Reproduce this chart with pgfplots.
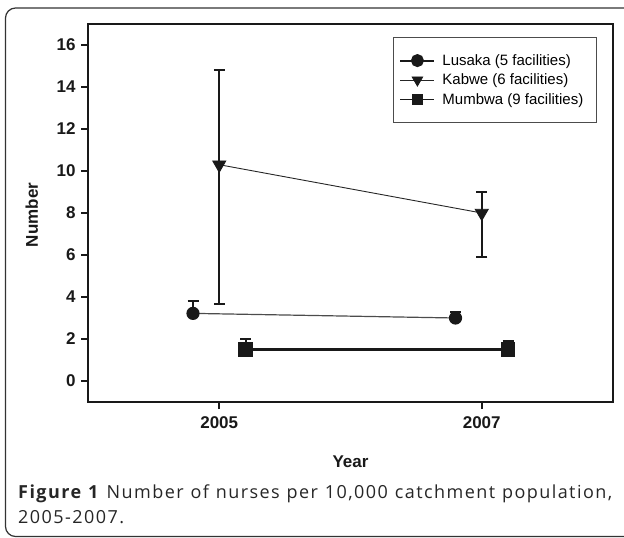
\documentclass[border=0pt]{standalone}
\usepackage{fontspec}
\setmainfont{Liberation Sans}
\newfontfamily\capfont[LetterSpace=8]{Open Sans}
\usepackage{pgfplots}
\pgfplotsset{compat=1.18}
\pgfplotstableread{
x y ep em
2004.8 3.22 0.58 0
2006.8 3.0 0.3 0
}\lusaka
\pgfplotstableread{
x y ep em
2005 10.3 4.5 6.65
2007 8.0 1.0 2.1
}\kabwe
\pgfplotstableread{
x y ep em
2005.2 1.5 0.5 0
2007.2 1.5 0.4 0
}\mumbwa
\begin{document}
\begin{tikzpicture}[x=1pt,y=1pt]
\useasboundingbox (0,0) rectangle (624,-538);
\draw[line width=1.2pt, black!80, rounded corners=10pt] (5.5,-8) rectangle (660,-536.5);
\begin{axis}[at={(88pt,-24pt)}, anchor=north west, scale only axis,
  width=525pt, height=378pt,
  xmin=2004, xmax=2008, ymin=-1, ymax=17,
  xtick={2005,2007}, xticklabels={2005,2007}, ytick={0,2,...,16},
  tick align=outside, tick pos=left, major tick length=7pt,
  axis line style={line width=2pt, black!90},
  every tick/.style={line width=1.8pt, black!90},
  ticklabel style={font=\bfseries\fontsize{17}{17}\selectfont, text=black!90},
  yticklabel style={xshift=-2pt},
  xticklabel style={yshift=-4pt},
  /pgf/number format/assume math mode=true,
  xlabel={Year}, ylabel={Number},
  label style={font=\bfseries\fontsize{17}{17}\selectfont, text=black!90},
  xlabel style={at={(axis description cs:0.5,-0.158)}, anchor=center},
  ylabel style={at={(axis description cs:-0.107,0.495)}, anchor=center},
  legend style={at={(axis description cs:0.581,0.9656)}, anchor=north west,
    draw=black!70, line width=0.8pt, font=\fontsize{15}{17}\selectfont,
    inner xsep=6pt, inner ysep=15pt, row sep=3pt,
    nodes={inner xsep=7pt}},
  legend cell align=left,
  legend image code/.code={\draw[mark repeat=2,mark phase=2,#1]
    plot coordinates {(0pt,0pt) (17pt,0pt) (34pt,0pt)};},
  error bars/error bar style={line width=2pt, black!90},
  error bars/error mark options={rotate=90, mark size=5.5pt, line width=1.8pt, black!90},
]
\addplot[black!70, line width=1.2pt, mark=*, mark size=6pt,
  mark options={black!90, fill=black!90},
  legend image post style={line width=2pt, black!90, mark size=5.5pt},
  error bars/.cd, y dir=both, y explicit]
  table[x=x, y=y, y error plus=ep, y error minus=em] {\lusaka};
\addlegendentry{Lusaka (5 facilities)}
\addplot[black!85, line width=0.9pt, mark=triangle*, mark size=7.5pt,
  mark options={rotate=180, black!90, fill=black!90},
  legend image post style={mark size=6pt},
  error bars/.cd, y dir=both, y explicit]
  table[x=x, y=y, y error plus=ep, y error minus=em] {\kabwe};
\addlegendentry{Kabwe (6 facilities)}
\addplot[black!90, line width=2.2pt, mark=square*, mark size=6pt,
  legend image post style={line width=1.2pt, mark size=5pt},
  error bars/.cd, y dir=both, y explicit]
  table[x=x, y=y, y error plus=ep, y error minus=em] {\mumbwa};
\addlegendentry{Mumbwa (9 facilities)}
\end{axis}
\node[anchor=base west, inner sep=0pt, text width=594pt, align=justify,
  font=\capfont\fontsize{18}{25.5}\selectfont, text=black!85] at (18,-498)
  {\textbf{Figure 1} Number of nurses per 10,000 catchment population,\linebreak 2005-2007.};
\end{tikzpicture}
\end{document}
